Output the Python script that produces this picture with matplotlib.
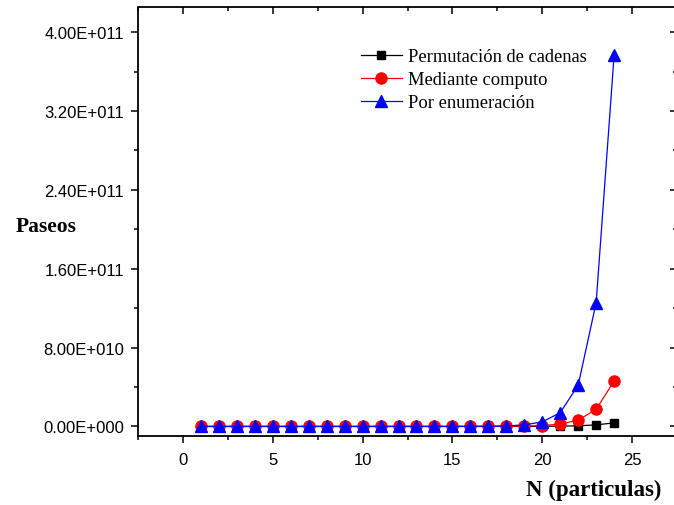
import matplotlib
matplotlib.use("Agg")
import matplotlib.pyplot as plt
from matplotlib.ticker import MultipleLocator, FixedLocator, FixedFormatter

# Number of particles
n_particulas = [1, 2, 3, 4, 5, 6, 7, 8, 9, 10, 11, 12,
                13, 14, 15, 16, 17, 18, 19, 20, 21, 22, 23, 24]

# Walks counted by chain permutation
permutacion = [4, 12, 36, 88, 230, 560, 1400, 3400, 8300, 20000, 48000,
               115000, 275000, 660000, 1.5e6, 3.6e6, 8.5e6, 2.0e7, 4.7e7,
               1.1e8, 2.6e8, 6.5e8, 1.6e9, 3.6e9]

# Walks obtained by computation
computo = [4, 12, 36, 100, 284, 780, 2172, 5916, 16268, 44100, 120292,
           324932, 881500, 2374444, 6416596, 17245332, 46466676, 124658732,
           335116620, 897697164, 2408806028, 6444560484, 17266613812,
           46146397316]

# Walks counted by enumeration
enumeracion = [4, 12, 36, 108, 324, 972, 2916, 8748, 26244, 78732, 236196,
               708588, 2125764, 6377292, 19131876, 57395628, 172186884,
               516560652, 1549681956, 4649045868, 13947137604, 41841412812,
               125524238436, 376572715308]

y_ticks = [0.0, 8.0e10, 1.6e11, 2.4e11, 3.2e11, 4.0e11]
y_tick_labels = ["0.00E+000", "8.00E+010", "1.60E+011",
                 "2.40E+011", "3.20E+011", "4.00E+011"]
x_ticks = [0, 5, 10, 15, 20, 25]
x_tick_labels = ["0", "5", "10", "15", "20", "25"]

series_labels = ["Permutación de cadenas", "Mediante computo", "Por enumeración"]

fig = plt.figure(figsize=(6.74, 5.06), dpi=100)
W, H = 674, 506
left, right, bottom, top = 138, 677, 437.3, 8.5
ax = fig.add_axes([left / W, 1 - bottom / H, (right - left) / W, (bottom - top) / H])

sans = "Liberation Sans"
serif = "Liberation Serif"

ax.plot(n_particulas, permutacion, color="black", lw=0.9, marker="s",
        ms=6, label=series_labels[0], zorder=3)
ax.plot(n_particulas, computo, color="red", lw=0.9, marker="o",
        ms=8, label=series_labels[1], zorder=4)
ax.plot(n_particulas, enumeracion, color="blue", lw=0.9, marker="^",
        ms=9, label=series_labels[2], zorder=5)

ax.set_xlim(-2.5, 27.5)
ax.set_ylim(-1.0e10, 4.25e11)

ax.xaxis.set_major_locator(FixedLocator(x_ticks))
ax.xaxis.set_major_formatter(FixedFormatter(x_tick_labels))
ax.xaxis.set_minor_locator(MultipleLocator(2.5))
ax.yaxis.set_major_locator(FixedLocator(y_ticks))
ax.yaxis.set_major_formatter(FixedFormatter(y_tick_labels))
ax.yaxis.set_minor_locator(MultipleLocator(4.0e10))

for side, s in ax.spines.items():
    s.set_linewidth(1.3)
ax.spines["top"].set_visible(False)
ax.spines["right"].set_visible(False)

ax.tick_params(axis="both", which="major", direction="out", length=5,
               width=1.1, labelsize=12, pad=5)
ax.tick_params(axis="both", which="minor", direction="out", length=3, width=1.1)
ax.tick_params(axis="x", which="major", pad=6)
ax.tick_params(top=False, right=False, which="both")

# inward ticks along the top and right frame
ax2x = ax.secondary_xaxis("top")
ax2x.set_xticks(x_ticks)
ax2x.xaxis.set_minor_locator(MultipleLocator(2.5))
ax2x.tick_params(which="major", direction="in", length=5, width=1.1, labeltop=False)
ax2x.tick_params(which="minor", direction="in", length=3, width=1.1)
ax2x.set_xticklabels([])
ax2x.spines["top"].set_linewidth(1.3)
ax2y = ax.secondary_yaxis("right")
ax2y.set_yticks(y_ticks)
ax2y.yaxis.set_minor_locator(MultipleLocator(4.0e10))
ax2y.tick_params(which="major", direction="in", length=5, width=1.1, labelright=False)
ax2y.tick_params(which="minor", direction="in", length=3, width=1.1)
ax2y.set_yticklabels([])
ax2y.spines["right"].set_linewidth(1.3)

for lab in ax.get_xticklabels() + ax.get_yticklabels():
    lab.set_fontfamily(sans)

ax.set_ylabel("Paseos", family=serif, fontweight="bold", fontsize=15.5,
              rotation=0, ha="center", va="center")
ax.yaxis.set_label_coords(-0.171, 0.490)
ax.set_xlabel("N (particulas)", family=serif, fontweight="bold", fontsize=16.5,
              ha="center", va="center")
ax.xaxis.set_label_coords(0.845, -0.123)

leg = ax.legend(loc="upper left", bbox_to_anchor=(360.7 / W, 1 - 49 / H),
                bbox_transform=fig.transFigure, frameon=False,
                prop={"family": serif, "size": 13.3}, handlelength=2.25,
                handletextpad=0.3, labelspacing=0.33, borderpad=0,
                borderaxespad=0)

fig.savefig("out.png", dpi=100)
